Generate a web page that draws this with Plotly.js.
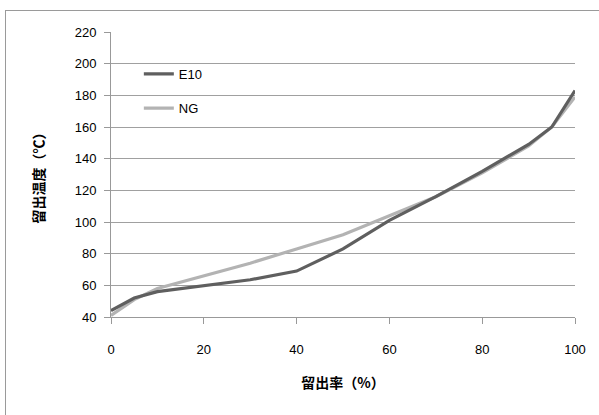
<!DOCTYPE html>
<html><head><meta charset="utf-8">
<script src="https://cdn.plot.ly/plotly-3.0.1.min.js"></script>
<style>html,body{margin:0;padding:0;background:#fff;}#wrap{position:relative;width:599px;height:415px;}#frame{position:absolute;left:5px;top:10px;width:600px;height:410px;border:1px solid #9a9a9a;pointer-events:none;}</style>
</head><body>
<div id="wrap"><div id="chart" style="width:599px;height:415px;"></div><div id="frame"></div></div>
<script>
const distillRate = [0, 5, 10, 20, 30, 40, 50, 60, 70, 80, 90, 95, 100];
const tempE10 = [44, 52, 56, 60, 63.5, 69, 83, 101, 116, 132, 149, 160, 183];
const tempNG  = [41, 51, 58, 66, 74, 83, 92, 104, 116, 131, 148, 160, 179];
const seriesNames = ['E10', 'NG'];
const xTicks = [0, 20, 40, 60, 80, 100];
const yTicks = [40, 60, 80, 100, 120, 140, 160, 180, 200, 220];

const tickFont = {family: 'Liberation Sans, Arial, sans-serif', size: 13, color: '#000'};
const titleFont = {family: 'Noto Sans CJK JP, sans-serif', size: 14, color: '#000', weight: 'bold'};
const legFont = {family: 'Liberation Sans, Arial, sans-serif', size: 13, color: '#000'};

const traces = [
  {x: distillRate, y: tempNG, name: seriesNames[1], mode: 'lines', legend: 'legend2',
   line: {color: '#b3b3b3', width: 3.2}},
  {x: distillRate, y: tempE10, name: seriesNames[0], mode: 'lines', legend: 'legend',
   line: {color: '#5f5f5f', width: 3.2}}
];

const layout = {
  width: 599, height: 415,
  margin: {l: 111, r: 24, t: 32, b: 98},
  paper_bgcolor: '#fff', plot_bgcolor: '#fff',
  showlegend: true,
  legend: {x: 0.06, y: 0.853, xanchor: 'left', yanchor: 'middle', bgcolor: 'rgba(0,0,0,0)', font: legFont},
  legend2: {x: 0.06, y: 0.733, xanchor: 'left', yanchor: 'middle', bgcolor: 'rgba(0,0,0,0)', font: legFont},
  xaxis: {
    range: [0, 100], tickvals: xTicks, ticktext: xTicks.map(String),
    showgrid: false, zeroline: false, showline: true, linecolor: '#999', linewidth: 1,
    ticks: 'outside', ticklen: 6, tickcolor: '#999', tickfont: tickFont, ticklabelstandoff: 14,
    title: {text: '留出率（%）', font: titleFont, standoff: 22}
  },
  yaxis: {
    range: [40, 220], tickvals: yTicks, ticktext: yTicks.map(String),
    showgrid: true, gridcolor: '#a0a0a0', gridwidth: 1, zeroline: false,
    showline: true, linecolor: '#999', linewidth: 1,
    ticks: 'outside', ticklen: 6, tickcolor: '#999', tickfont: tickFont, ticklabelstandoff: 5,
    title: {text: '留出温度（℃）', font: titleFont, standoff: 26}
  }
};

Plotly.newPlot('chart', traces, layout, {displayModeBar: false, staticPlot: true});
</script>
</body></html>
